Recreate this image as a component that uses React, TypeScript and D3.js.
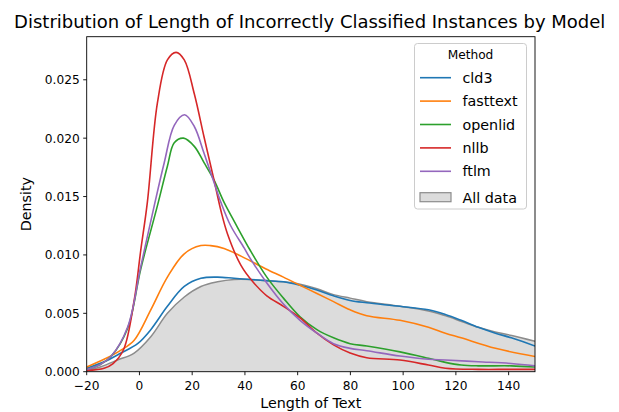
import React from "react";
import * as d3 from "d3";

const xTicks = [-20, 0, 20, 40, 60, 80, 100, 120, 140];
const yTicks = [0, 0.005, 0.01, 0.015, 0.02, 0.025];

const cld3X = [-20, -13.4, -7, -0.7, 4.3, 10.6, 17, 23.3, 29.6, 35.9, 42.2, 48, 54.6, 60.9, 67.3, 73.6, 79.9, 86.2, 98.8, 109.6, 116, 122, 128.5, 135, 141, 150];
const cld3Y = [0.0003, 0.00085, 0.0016, 0.0024, 0.0036, 0.0056, 0.0073, 0.008, 0.0081, 0.008, 0.0079, 0.0078, 0.0077, 0.0074, 0.007, 0.0065, 0.0061, 0.0059, 0.0056, 0.0053, 0.0049, 0.0044, 0.0038, 0.0033, 0.0029, 0.0022];

const fasttextX = [-20, -13.4, -7, -2, 4.3, 10.6, 17, 23.3, 27, 32.1, 38.5, 42, 48, 54.6, 60.9, 67.3, 73.6, 79.9, 86.2, 98.8, 109.6, 116, 122, 135, 150];
const fasttextY = [0.0004, 0.00106, 0.00185, 0.0027, 0.0053, 0.0081, 0.0101, 0.0108, 0.0108, 0.01055, 0.0099, 0.0095, 0.0088, 0.0081, 0.0074, 0.0067, 0.006, 0.0053, 0.0048, 0.0044, 0.0038, 0.0033, 0.0029, 0.002, 0.0013];

const openlidX = [-20, -15, -10.8, -4.5, 0.5, 6.8, 10.6, 13.2, 16.7, 20.8, 24.5, 28.3, 32.1, 35.9, 42, 48.3, 54.6, 60.9, 67.3, 73.6, 79.9, 86.2, 98.8, 109.6, 116, 122, 128.5, 141, 150];
const openlidY = [0.0002, 0.0006, 0.0013, 0.0037, 0.0088, 0.0142, 0.0176, 0.0196, 0.02, 0.0193, 0.0179, 0.0164, 0.0145, 0.0129, 0.0104, 0.0081, 0.0063, 0.0047, 0.0036, 0.0029, 0.0024, 0.0022, 0.0017, 0.00115, 0.0008, 0.00057, 0.0005, 0.0005, 0.0004];

const nllbX = [-20, -13.4, -10, -6, -2, 0.5, 3, 6.8, 10.6, 13.9, 17, 20.8, 24.5, 28.3, 31, 33.4, 38.5, 43, 48.3, 54.6, 60.9, 67.3, 73.6, 79.9, 86.2, 98.8, 109.6, 116, 128.5, 140, 150];
const nllbY = [0.0001, 0.0003, 0.0007, 0.0019, 0.0061, 0.0104, 0.0145, 0.023, 0.0267, 0.02735, 0.0267, 0.0238, 0.0201, 0.0164, 0.0137, 0.0118, 0.0091, 0.0077, 0.0065, 0.0056, 0.0046, 0.0033, 0.0023, 0.0016, 0.0012, 0.001, 0.00057, 0.0003, 0.0002, 0.0002, 0.0002];

const ftlmX = [-20, -15, -10.8, -4.5, 0.5, 5.6, 9.4, 13.2, 17.1, 20.8, 24.5, 28.3, 30.9, 34.6, 39.7, 42, 48.3, 54.6, 60.9, 67.3, 73.6, 79.9, 86.2, 98.8, 109.6, 116, 128.5, 141, 150];
const ftlmY = [0.0002, 0.0006, 0.0013, 0.0038, 0.009, 0.0142, 0.0179, 0.0211, 0.022, 0.021, 0.0187, 0.0162, 0.0145, 0.0125, 0.0106, 0.0097, 0.0076, 0.0058, 0.0044, 0.0033, 0.0024, 0.002, 0.0018, 0.00134, 0.00106, 0.001, 0.00085, 0.0007, 0.0005];

const allX = [-20, -14.6, -8.3, -2, 4.3, 10.6, 17, 23.3, 29.6, 35.9, 42, 48, 54.6, 60.9, 67.3, 73.6, 79.9, 86.2, 98.8, 109.6, 115.9, 122.2, 128.5, 134.9, 141.2, 150];
const allY = [0.0001, 0.00043, 0.001, 0.0016, 0.003, 0.005, 0.0064, 0.0073, 0.0077, 0.0079, 0.0079, 0.0078, 0.0077, 0.0075, 0.0071, 0.0066, 0.0063, 0.006, 0.0056, 0.0052, 0.0048, 0.0043, 0.0038, 0.0034, 0.0031, 0.0026];

const seriesNames = ["cld3", "fasttext", "openlid", "nllb", "ftlm"];
const seriesX = [cld3X, fasttextX, openlidX, nllbX, ftlmX];
const seriesY = [cld3Y, fasttextY, openlidY, nllbY, ftlmY];
const colors = ["#1f77b4", "#ff7f0e", "#2ca02c", "#d62728", "#9467bd"];

const W = 619, H = 412;
const L = 86.7, R = 535, T = 36.7, B = 371.7;
const FONT = "DejaVu Sans, sans-serif";

export default function App() {
  const x = d3.scaleLinear().domain([-20, 150]).range([L, R]);
  const y = d3.scaleLinear().domain([0, 0.02869]).range([B, T]);
  const toPts = (xs: number[], ys: number[]) => xs.map((v, i) => [v, ys[i]] as [number, number]);
  const curve = d3.curveCatmullRom.alpha(0.5);
  const line = d3.line<[number, number]>().x(d => x(d[0])).y(d => y(d[1])).curve(curve);
  const area = d3.area<[number, number]>().x(d => x(d[0])).y0(y(0)).y1(d => y(d[1])).curve(curve);
  const allPts = toPts(allX, allY);
  const legendY0 = 77.7, legendStep = 23.4;
  return (
    <svg width={W} height={H} style={{ position: "absolute", left: 0, top: 0 }} fontFamily={FONT}>
      <rect x={0} y={0} width={W} height={H} fill="#fff" />
      <defs>
        <clipPath id="plotclip"><rect x={L} y={T} width={R - L} height={B - T} /></clipPath>
      </defs>
      <g clipPath="url(#plotclip)">
        <path d={area(allPts) || ""} fill="#dcdcdc" stroke="none" />
        <path d={line(allPts) || ""} fill="none" stroke="#8c8c8c" strokeWidth={1.5} />
        {seriesNames.map((n, i) => (
          <path key={n} d={line(toPts(seriesX[i], seriesY[i])) || ""} fill="none" stroke={colors[i]} strokeWidth={1.6} />
        ))}
      </g>
      <rect x={L} y={T} width={R - L} height={B - T} fill="none" stroke="#000" strokeWidth={0.9} />
      {xTicks.map(t => (
        <g key={t}>
          <line x1={x(t)} x2={x(t)} y1={B} y2={B + 3.5} stroke="#000" strokeWidth={0.9} />
          <text x={x(t)} y={390} textAnchor="middle" fontSize={12.2} fill="#000">{t < 0 ? "\u2212" + Math.abs(t) : t}</text>
        </g>
      ))}
      {yTicks.map(t => (
        <g key={t}>
          <line x1={L - 3.5} x2={L} y1={y(t)} y2={y(t)} stroke="#000" strokeWidth={0.9} />
          <text x={L - 7} y={y(t) + 4.4} textAnchor="end" fontSize={12.2} fill="#000">{d3.format(".3f")(t)}</text>
        </g>
      ))}
      <text x={(L + R) / 2} y={408} textAnchor="middle" fontSize={14.3} fill="#000">Length of Text</text>
      <text transform={`translate(31,${(T + B) / 2}) rotate(-90)`} textAnchor="middle" fontSize={14.3} fill="#000">Density</text>
      <text x={309.7} y={28.3} textAnchor="middle" fontSize={18} fill="#000">Distribution of Length of Incorrectly Classified Instances by Model</text>
      <g>
        <rect x={414.5} y={43.5} width={112} height={165.5} rx={3} fill="#fff" fillOpacity={0.8} stroke="#cccccc" strokeWidth={1} />
        <text x={470.5} y={58.5} textAnchor="middle" fontSize={12.2} fill="#000">Method</text>
        {seriesNames.map((n, i) => (
          <g key={n}>
            <line x1={420} x2={451} y1={legendY0 + i * legendStep} y2={legendY0 + i * legendStep} stroke={colors[i]} strokeWidth={1.6} />
            <text x={462.5} y={legendY0 + i * legendStep + 5} fontSize={14.3} fill="#000">{n}</text>
          </g>
        ))}
        <rect x={420} y={192.7} width={31} height={9} fill="#dcdcdc" stroke="#8c8c8c" strokeWidth={1.2} />
        <text x={462.5} y={202.7} fontSize={14.3} fill="#000">All data</text>
      </g>
    </svg>
  );
}
